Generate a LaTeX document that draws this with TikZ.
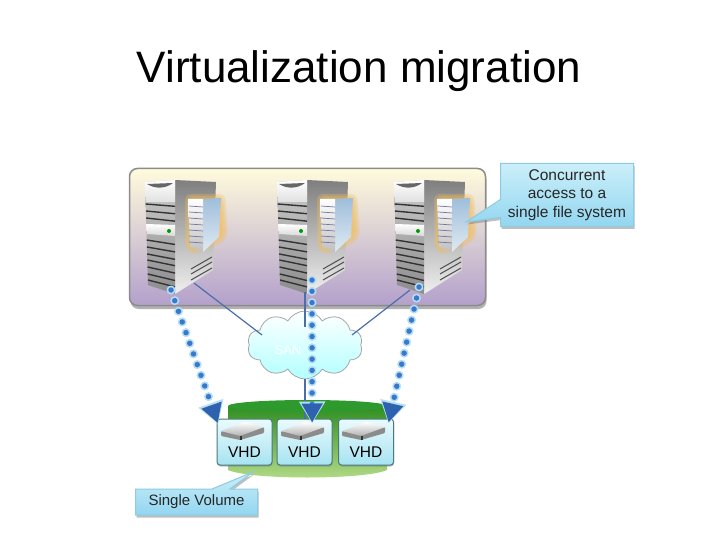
\documentclass[tikz,border=0pt]{standalone}
\usepackage{fontspec}
\setmainfont{Liberation Sans}
\usetikzlibrary{arrows.meta,shadows,shapes.callouts,shapes.symbols}

\definecolor{lanblue}{HTML}{4A6FA8}
\definecolor{dotblue}{HTML}{3A78CC}
\definecolor{tipblue}{HTML}{2F62AE}
\definecolor{glowblue}{HTML}{B4DEF4}
\definecolor{edgeteal}{HTML}{8CCBE0}
\definecolor{paneltop}{HTML}{FFFBDC}
\definecolor{panelmid}{HTML}{E9DFF0}
\definecolor{panelend}{HTML}{B3A0CB}
\definecolor{notetop}{HTML}{CBEFF9}
\definecolor{noteend}{HTML}{92D6F0}
\definecolor{vhdtop}{HTML}{EAFBFD}
\definecolor{vhdend}{HTML}{A6E3F2}
\definecolor{vmtop}{HTML}{9FBEDB}
\definecolor{vmend}{HTML}{DFEAF2}
\definecolor{halo}{HTML}{F6BE55}
\definecolor{voltop}{HTML}{2F8F22}
\definecolor{volend}{HTML}{B4DB86}
\definecolor{volcap}{HTML}{2E9A2E}

\tikzset{
    panelbox/.style={draw=black!45, line width=1.5pt, rounded corners=8pt, top color=paneltop, middle color=panelmid, bottom color=panelend, minimum width=356pt, minimum height=137pt, inner sep=0pt, drop shadow={shadow xshift=1pt, shadow yshift=-3.5pt, opacity=.6}},
    notebox/.style={rectangle callout, draw=edgeteal, line width=1pt, top color=notetop, bottom color=noteend, text=black!85, align=center, inner sep=0pt, callout pointer width=18pt, drop shadow={shadow xshift=1pt, shadow yshift=-2.5pt, opacity=.5}},
    vhdbox/.style={draw=teal!50!black!70, line width=1pt, rounded corners=3pt, top color=vhdtop, bottom color=vhdend, font=\fontsize{15.5}{18}\selectfont, minimum width=55pt, inner xsep=0pt, inner ysep=6pt, text height=32pt, text depth=2pt, drop shadow={shadow xshift=.5pt, shadow yshift=-1.5pt, opacity=.5}},
    sancloud/.style={cloud, cloud puffs=10, cloud puff arc=120, aspect=1.7, draw=black!35, line width=.8pt, top color=white, bottom color=cyan!30, minimum width=115pt, minimum height=68pt, inner sep=0pt},
    lanlink/.style={draw=lanblue, line width=1.2pt},
    dotglow/.style={draw=glowblue, line width=9pt, line cap=round, dash pattern=on 0pt off 11.3pt, shorten >=-5pt, -{Triangle[length=22pt,width=25pt,color=glowblue]}},
    dotlink/.style={draw=dotblue, line width=5.5pt, line cap=round, dash pattern=on 0pt off 11.3pt, shorten >=-4pt, -{Triangle[length=19pt,width=20pt,color=tipblue]}},
    server/.pic={
        \shade[top color=black!50, bottom color=black!6] (30,-2)--(71,0)--(68,88)--(30,112)--cycle;
        \shade[top color=black!20, bottom color=black!45] (0,0)--(30,-2)--(30,112)--(3,103)--cycle;
        \shade[top color=white, bottom color=black!12] (0,0)--(30,-2)--(30,20)--(1,20)--cycle;
        \shade[top color=white, bottom color=black!15] (1,42)--(30,43)--(30,54)--(2,52)--cycle;
        \fill[black!60] (2,2)..controls (10,7) and (20,7)..(28,1)--cycle;
        \fill[green!60!black] (24,49) circle (2pt);
        \foreach \slat in {22,29,36,58,65,72,78,85,92,98}
            \draw[black!80, line width=1.4pt] (\slat*.03,\slat)--(30,\slat+1+\slat*.06);
        \foreach \vent in {0,5,11}
            \draw[black!70, line width=1pt] (46,87+\vent)--(67,75+\vent);
        \foreach \glow in {0,2,4,6}
            \fill[halo, opacity=.3, rounded corners=6pt] (40+\glow,12+\glow)--(80-\glow,12+\glow)--(83-\glow,54)--(76-\glow,62-\glow)--(48,73-\glow)--(40+\glow,66)--cycle;
        \shade[top color=vmtop, bottom color=vmend] (58,17)--(76,16)--(74,55)--(58,70)--cycle;
        \shade[top color=white, bottom color=black!25] (43,17)--(58,17)--(58,70)--(45,65)--cycle;
        \foreach \slat in {24,30,...,60}
            \draw[blue!30!black!55, line width=.7pt] (44,\slat)--(58,\slat+1);
    },
    drive/.pic={
        \fill[black!45, rounded corners=1pt] (4,12)--(4,17)--(23,21)--(47,14)--(47,8)--(23,16)--cycle;
        \shade[top color=white, bottom color=black!30, rounded corners=1pt] (4,12)--(28,3)--(47,8)--(23,17)--cycle;
        \fill[black!80] (23,17) rectangle (25,21);
    }
}

\begin{document}
\begin{tikzpicture}[x=1pt, y=-1pt]
        \useasboundingbox (0,0) rectangle (720,540);
        \fill[white] (0,0) rectangle (720,540);
        \node[anchor=base, font=\fontsize{44}{50}\selectfont] at (359, 83)(title){Virtualization migration};

        \node[panelbox] at (307.5, 237)(rack){};
        \pic (srvA) at (145, 182) {server};
        \pic (srvB) at (277, 182) {server};
        \pic (srvC) at (394, 182) {server};

        \node[notebox, minimum width=133pt, minimum height=63pt, font=\fontsize{15.5}{18.5}\selectfont, callout absolute pointer={(466,222)}] at (567, 195)(concurrent){Concurrent\\access to a\\single file system};

        \shade[top color=voltop, bottom color=volend] (228,406)--(228,470)..controls (250,480) and (365,480)..(387,470)--(387,406)--cycle;
        \fill[volcap] (307.5,406) ellipse (79.5 and 6);
        \coordinate (volume) at (253, 472);

        \node[vhdbox] at (244.5, 442)(vhdA){VHD};
        \node[vhdbox] at (304.5, 442)(vhdB){VHD};
        \node[vhdbox] at (366, 442)(vhdC){VHD};
        \pic at (217, 419) {drive};
        \pic at (277, 419) {drive};
        \pic at (338, 419) {drive};

        \node[notebox, minimum width=122pt, minimum height=26pt, font=\fontsize{15}{16}\selectfont, callout absolute pointer={(volume)}] at (196.5, 502)(single){Single Volume};

        \node[sancloud] at (305, 345)(cloud){};
        \node[text=white, font=\fontsize{13}{15}\selectfont] at (288, 350)(san){SAN};

        \coordinate (lanA) at (194, 283);
        \coordinate (lanB) at (305, 292);
        \coordinate (lanC) at (410, 290);
        \coordinate (sanA) at (262, 335);
        \coordinate (sanB) at (305, 327);
        \coordinate (sanC) at (352, 335);
        \coordinate (dotA) at (171, 290);
        \coordinate (dotB) at (312, 280);
        \coordinate (dotC) at (419, 287);

        \path
        (lanA)edge[lanlink](sanA)
        (lanB)edge[lanlink](sanB)
        (lanC)edge[lanlink](sanC)
        (cloud.south)edge[lanlink](vhdB.north -| cloud.south)
        ;
        \path
        (dotA)edge[dotglow](vhdA.141)
        (dotB)edge[dotglow](vhdB.72)
        (dotC)edge[dotglow](vhdC.45)
        ;
        \path
        (dotA)edge[dotlink](vhdA.141)
        (dotB)edge[dotlink](vhdB.72)
        (dotC)edge[dotlink](vhdC.45)
        ;
    \end{tikzpicture}
\end{document}
